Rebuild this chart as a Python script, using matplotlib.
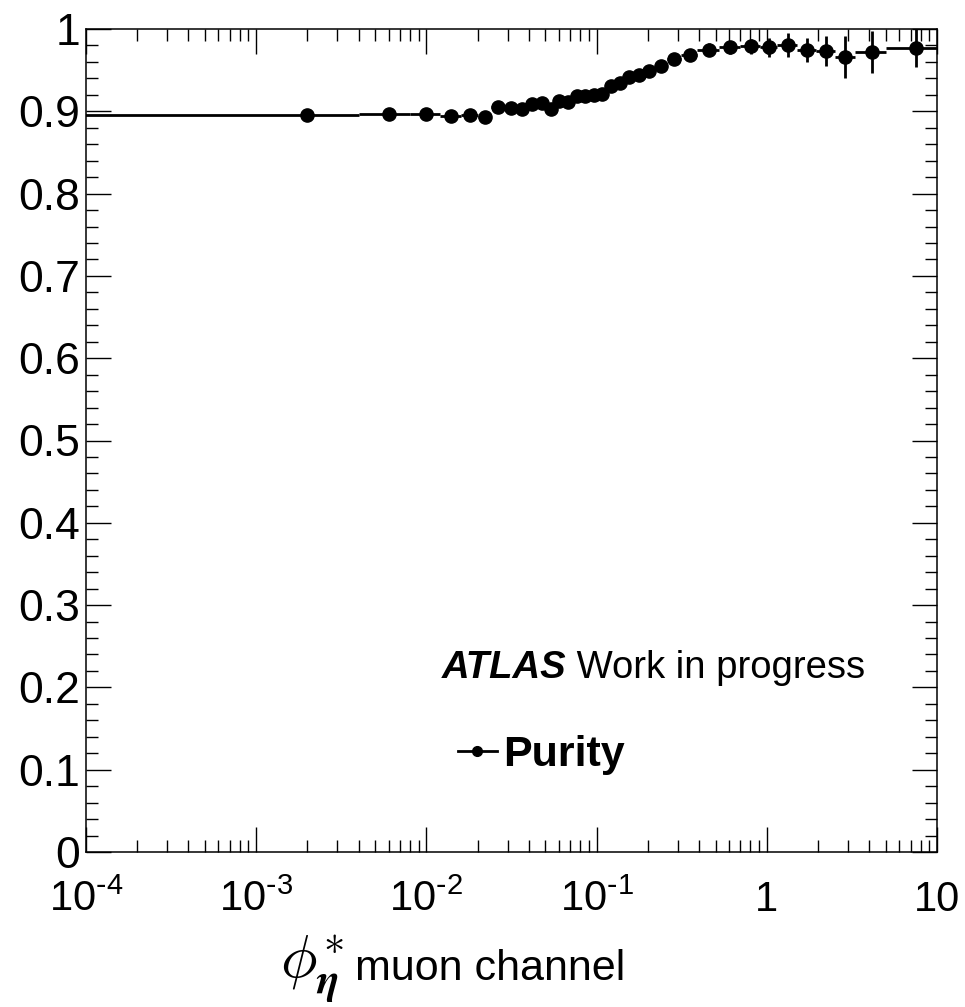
import numpy as np
import matplotlib
matplotlib.use("Agg")
import matplotlib.pyplot as plt
from matplotlib.ticker import LogLocator, NullFormatter, FixedLocator, FixedFormatter, MultipleLocator
from matplotlib.lines import Line2D

# ---------------- data ----------------
bin_edges = [0.0, 0.004, 0.008, 0.012, 0.016, 0.020, 0.024, 0.029, 0.034, 0.039,
             0.045, 0.051, 0.057, 0.064, 0.072, 0.081, 0.091, 0.102, 0.114, 0.128,
             0.145, 0.165, 0.189, 0.219, 0.258, 0.312, 0.391, 0.524, 0.695, 0.918,
             1.153, 1.496, 1.947, 2.522, 3.277, 5.0, 10.0]
purity = [0.8955, 0.8967, 0.8967, 0.8940, 0.8955, 0.8925, 0.9047, 0.9035, 0.9022,
          0.9090, 0.9101, 0.9034, 0.9125, 0.9113, 0.9186, 0.9180, 0.9198, 0.9210,
          0.9307, 0.9344, 0.9417, 0.9441, 0.9490, 0.9550, 0.9635, 0.9684, 0.9750,
          0.9780, 0.9790, 0.9780, 0.9805, 0.9745, 0.9730, 0.9660, 0.9720, 0.9775]
purity_err = [0.003, 0.003, 0.003, 0.003, 0.003, 0.003, 0.003, 0.003, 0.003,
              0.003, 0.003, 0.003, 0.003, 0.003, 0.003, 0.003, 0.003, 0.003,
              0.0035, 0.0035, 0.004, 0.004, 0.004, 0.0045, 0.005, 0.006, 0.008,
              0.008, 0.009, 0.0115, 0.0145, 0.0145, 0.018, 0.025, 0.025, 0.024]

x_tick_values = [1e-4, 1e-3, 1e-2, 1e-1, 1, 10]
x_tick_labels = [r"$\mathregular{10^{\text{-}4}}$", r"$\mathregular{10^{\text{-}3}}$",
                 r"$\mathregular{10^{\text{-}2}}$", r"$\mathregular{10^{\text{-}1}}$", "1", "10"]
y_tick_values = [0.0, 0.1, 0.2, 0.3, 0.4, 0.5, 0.6, 0.7, 0.8, 0.9, 1.0]
y_tick_labels = ["0", "0.1", "0.2", "0.3", "0.4", "0.5", "0.6", "0.7", "0.8", "0.9", "1"]

series_label = "Purity"
atlas_label = "ATLAS"
atlas_suffix = " Work in progress"
xtitle_symbol = r"$\phi^{\boldsymbol{*}}_{\boldsymbol{\eta}}$"
xtitle_symbol_plain = r"$\phi^{*}_{\eta}$"
xtitle_text = "muon channel"

# ---------------- figure ----------------
plt.rcParams["font.family"] = ["Liberation Sans", "DejaVu Sans"]

W, H = 965, 1007
fig = plt.figure(figsize=(W / 100, H / 100), dpi=100)
ax = fig.add_axes([86 / W, 1 - 852 / H, (937 - 86) / W, (852 - 29) / H])

edges = np.array(bin_edges)
lo, hi = edges[:-1], edges[1:]
xc = 0.5 * (lo + hi)
y = np.array(purity)
yerr = np.array(purity_err)

ax.set_xscale("log", nonpositive="clip")
ax.errorbar(xc, y, xerr=[xc - lo, hi - xc], yerr=yerr, fmt="o", color="black",
            ms=9.5, lw=2.0, elinewidth=2.0, capsize=0, zorder=3)

ax.set_xlim(1e-4, 10)
ax.set_ylim(0, 1)

# ticks
ax.xaxis.set_major_locator(FixedLocator(x_tick_values))
ax.xaxis.set_major_formatter(FixedFormatter(x_tick_labels))
ax.xaxis.set_minor_locator(LogLocator(base=10, subs=np.arange(2, 10)))
ax.xaxis.set_minor_formatter(NullFormatter())
ax.yaxis.set_major_locator(FixedLocator(y_tick_values))
ax.yaxis.set_major_formatter(FixedFormatter(y_tick_labels))
ax.yaxis.set_minor_locator(MultipleLocator(0.02))

ax.tick_params(which="both", direction="in", top=True, right=True, width=1.0, color="black")
ax.tick_params(which="major", length=18)
ax.tick_params(which="minor", length=8.5)
ax.tick_params(axis="y", which="major", labelsize=32, pad=4)
ax.tick_params(axis="x", which="major", labelsize=30, pad=20)
for s in ax.spines.values():
    s.set_linewidth(1.1)

# ATLAS label
t1 = ax.text(0.418, 0.211, atlas_label, transform=ax.transAxes, fontsize=27.5,
             fontweight="bold", fontstyle="italic", ha="left", va="baseline")
ax.annotate(atlas_suffix, xy=(1, 0), xycoords=t1, fontsize=27.5, ha="left", va="bottom")

# legend
proxy = Line2D([], [], color="black", lw=2.0, marker="o", ms=7)
ax.legend([proxy], [series_label], loc="center left", bbox_to_anchor=(0.437, 0.118),
          frameon=False, borderpad=0, borderaxespad=0, handlelength=0.9,
          handletextpad=0.15, prop={"weight": "bold", "size": 31})

# x-axis title
sym = fig.text(280 / W, 1 - 978 / H, xtitle_symbol, fontsize=44, math_fontfamily="cm",
               ha="left", va="baseline")
fig.text(355 / W, 1 - 980 / H, xtitle_text, fontsize=31, ha="left", va="baseline")

try:
    fig.canvas.draw()
except Exception:
    sym.set_text(xtitle_symbol_plain)

fig.savefig("out.png", dpi=100)
